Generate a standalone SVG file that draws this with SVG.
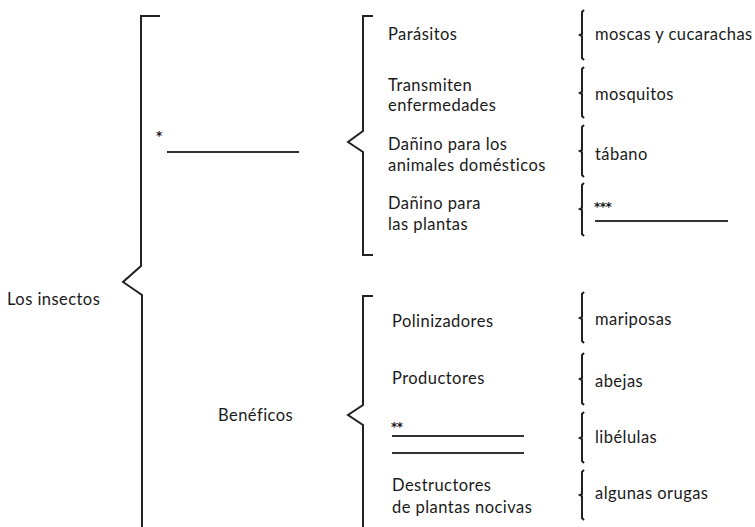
<svg xmlns="http://www.w3.org/2000/svg" width="755" height="527" viewBox="0 0 755 527">
<style>
text{font-family:Lato,"Open Sans","Liberation Sans",sans-serif;font-size:16.5px;letter-spacing:0.45px;fill:#1a1a1a}
.br{fill:none;stroke:#222;stroke-width:2;stroke-linejoin:miter}
.rb{fill:none;stroke:#222;stroke-width:2}
.ln{stroke:#333;stroke-width:2}
.st{font-family:"DejaVu Sans",sans-serif;font-size:12px;font-weight:bold;letter-spacing:-0.5px}
</style>
<rect width="755" height="527" fill="#fff"/>
<g id="connectors">
<path class="br" d="M160,16 H141 V266 L123,282 L142,295 V527"/>
<path class="br" d="M373,16 H363 V131 L348,142 L363,152 V255 H373"/>
<path class="br" d="M373,296 H363 V405 L348,415 L363,425 V527"/>
<g class="rb">
<path d="M584,10 L582,12 V34 L580,35 L582,36 V58 L584,60"/>
<path d="M584,67 L582,69 V92 L580,93 L582,94 V116 L584,118"/>
<path d="M584,125 L582,127 V150 L580,151 L582,152 V175 L584,177"/>
<path d="M584,183 L582,185 V208 L580,209 L582,210 V234 L584,236"/>
<path d="M584,292 L582,294 V317 L580,318 L582,319 V341 L584,343"/>
<path d="M584,353 L582,355 V378 L580,379 L582,380 V403 L584,405"/>
<path d="M584,412 L582,414 V437 L580,438 L582,439 V461 L584,463"/>
<path d="M584,470 L582,472 V494 L580,495 L582,496 V518 L584,520"/>
</g>
</g>
<g id="root"><text x="7" y="305">Los insectos</text></g>
<g id="danino"><text x="156" y="140" class="st">*</text><line class="ln" x1="167" y1="152" x2="299" y2="152"/></g>
<g id="beneficos"><text x="218" y="421">Benéficos</text></g>
<g id="parasitos"><text x="388" y="40">Parásitos</text></g>
<g id="transmiten"><text x="388" y="91">Transmiten</text><text x="388" y="111">enfermedades</text></g>
<g id="danino-animales"><text x="388" y="150">Dañino para los</text><text x="388" y="171">animales domésticos</text></g>
<g id="danino-plantas"><text x="388" y="209">Dañino para</text><text x="388" y="230">las plantas</text></g>
<g id="moscas"><text x="595" y="40">moscas y cucarachas</text></g>
<g id="mosquitos"><text x="595" y="100">mosquitos</text></g>
<g id="tabano"><text x="595" y="160">tábano</text></g>
<g id="blank3"><text x="594" y="211" class="st">***</text><line class="ln" x1="595" y1="221" x2="728" y2="221"/></g>
<g id="polinizadores"><text x="392" y="327">Polinizadores</text></g>
<g id="productores"><text x="392" y="384">Productores</text></g>
<g id="blank2"><text x="391" y="431" class="st">**</text><line class="ln" x1="392" y1="436" x2="524" y2="436"/><line class="ln" x1="392" y1="453" x2="524" y2="453"/></g>
<g id="destructores"><text x="392" y="491">Destructores</text><text x="392" y="513">de plantas nocivas</text></g>
<g id="mariposas"><text x="595" y="325">mariposas</text></g>
<g id="abejas"><text x="595" y="387">abejas</text></g>
<g id="libelulas"><text x="595" y="443">libélulas</text></g>
<g id="orugas"><text x="595" y="499">algunas orugas</text></g>
</svg>
